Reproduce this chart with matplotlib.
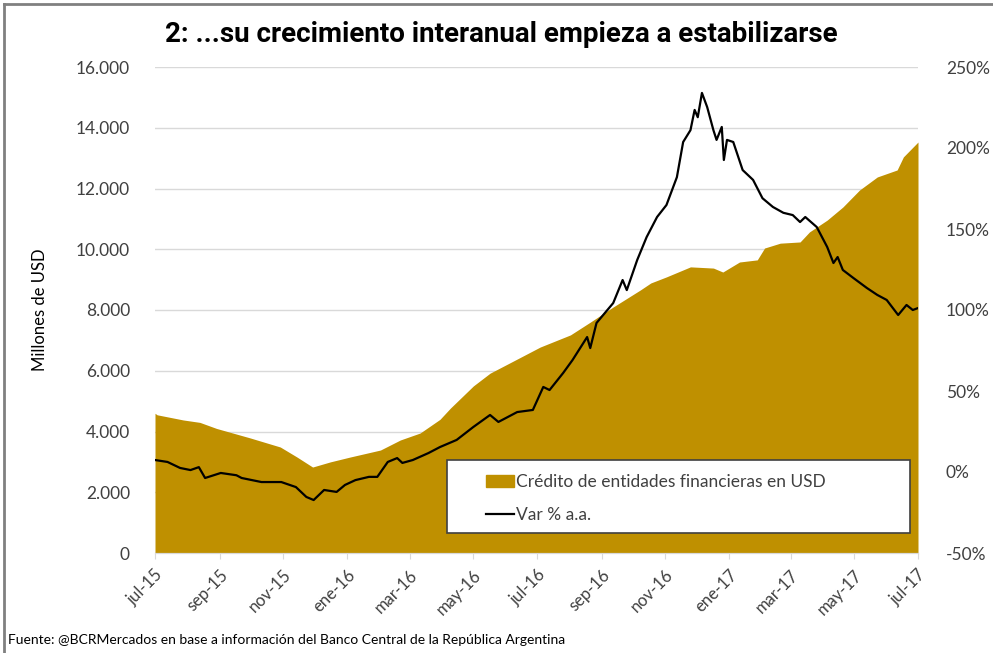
import matplotlib
matplotlib.use("Agg")
import matplotlib.pyplot as plt
from matplotlib.lines import Line2D
from matplotlib.patches import Rectangle, Patch
from matplotlib.ticker import FuncFormatter, MultipleLocator
from matplotlib import font_manager
import pandas as pd

# ---------------- data ----------------
credit_dates = ["2015-07-01", "2015-07-03", "2015-07-28", "2015-08-13", "2015-08-29",
                "2015-09-30", "2015-10-29", "2015-11-14", "2015-11-29", "2015-12-16",
                "2016-01-04", "2016-02-02", "2016-02-21", "2016-03-11", "2016-03-30",
                "2016-04-09", "2016-05-01", "2016-05-17", "2016-06-05", "2016-07-04",
                "2016-08-02", "2016-08-21", "2016-09-12", "2016-10-08", "2016-10-18",
                "2016-11-02", "2016-11-25", "2016-12-17", "2016-12-26", "2017-01-11",
                "2017-01-28", "2017-02-04", "2017-02-19", "2017-03-10", "2017-03-19",
                "2017-04-05", "2017-04-20", "2017-05-06", "2017-05-23", "2017-06-11",
                "2017-06-17", "2017-07-01"]
credit_values = [4600, 4550, 4380, 4300, 4100,
                 3790, 3490, 3160, 2830, 3000,
                 3160, 3390, 3720, 3950, 4400,
                 4770, 5500, 5920, 6260, 6780,
                 7180, 7600, 8100, 8660, 8890,
                 9090, 9420, 9380, 9250, 9580,
                 9650, 10040, 10200, 10240, 10570,
                 10960, 11390, 11950, 12380, 12610,
                 13040, 13530]

var_dates = ["2015-07-01", "2015-07-13", "2015-07-25", "2015-08-04", "2015-08-12",
             "2015-08-18", "2015-09-02", "2015-09-17", "2015-09-22", "2015-10-11",
             "2015-10-30", "2015-11-13", "2015-11-23", "2015-11-30", "2015-12-10",
             "2015-12-22", "2015-12-30", "2016-01-09", "2016-01-22", "2016-01-30",
             "2016-02-09", "2016-02-18", "2016-02-23", "2016-03-04", "2016-03-19",
             "2016-03-30", "2016-04-15", "2016-05-01", "2016-05-17", "2016-05-25",
             "2016-06-12", "2016-06-27", "2016-07-07", "2016-07-13", "2016-07-26",
             "2016-08-04", "2016-08-18", "2016-08-21", "2016-08-27", "2016-09-12",
             "2016-09-21", "2016-09-25", "2016-10-05", "2016-10-14", "2016-10-24",
             "2016-11-02", "2016-11-12", "2016-11-18", "2016-11-25", "2016-11-29",
             "2016-12-02", "2016-12-06", "2016-12-11", "2016-12-17", "2016-12-20",
             "2016-12-25", "2016-12-27", "2016-12-30", "2017-01-05", "2017-01-14",
             "2017-01-24", "2017-02-02", "2017-02-12", "2017-02-22", "2017-03-03",
             "2017-03-10", "2017-03-15", "2017-03-26", "2017-04-05", "2017-04-11",
             "2017-04-15", "2017-04-20", "2017-04-30", "2017-05-13", "2017-05-23",
             "2017-06-01", "2017-06-12", "2017-06-20", "2017-06-26", "2017-07-01"]
var_values = [7.4, 6.2, 2.5, 1.2, 3.0,
              -3.7, -0.6, -2.0, -3.7, -6.2,
              -6.2, -9.3, -15.4, -17.3, -11.1,
              -12.3, -8.0, -5.0, -3.0, -3.0,
              6.2, 8.6, 5.6, 7.4, 11.7,
              15.4, 19.8, 27.8, 35.2, 30.9,
              37.0, 38.3, 52.5, 50.6, 61.1,
              69.1, 83.3, 76.5, 92.0, 104.3,
              118.5, 112.3, 130.9, 145.0, 157.4,
              164.8, 182.0, 203.7, 211.0, 223.5,
              219.0, 234.0, 225.3, 211.0, 205.0,
              213.0, 192.6, 205.0, 203.7, 186.4,
              180.3, 169.0, 163.6, 160.0, 158.6,
              154.3, 157.4, 151.2, 138.9, 129.0,
              132.7, 124.7, 119.8, 113.6, 109.3,
              106.2, 96.9, 103.1, 100.0, 101.2]

tick_dates = ["2015-07-01", "2015-09-01", "2015-11-01", "2016-01-01", "2016-03-01",
              "2016-05-01", "2016-07-01", "2016-09-01", "2016-11-01", "2017-01-01",
              "2017-03-01", "2017-05-01", "2017-07-01"]
tick_labels = ["jul-15", "sep-15", "nov-15", "ene-16", "mar-16", "may-16", "jul-16",
               "sep-16", "nov-16", "ene-17", "mar-17", "may-17", "jul-17"]

title = "2: ...su crecimiento interanual empieza a estabilizarse"
credit_label = "Crédito de entidades financieras en USD"
var_label = "Var % a.a."
ylabel = "Millones de USD"
source = "Fuente: @BCRMercados en base a información del Banco Central de la República Argentina"

# ---------------- style ----------------
GOLD = "#BF9000"
TXT = "#404040"
GRID = "#d9d9d9"
FONT = "Lato"

names = {f.name for f in font_manager.fontManager.ttflist}
if "Liberation Sans Narrow" in names:
    TITLE_FONT, TITLE_SIZE = "Liberation Sans Narrow", 24
else:
    TITLE_FONT, TITLE_SIZE = "Roboto", 20

cd = pd.to_datetime(credit_dates)
vd = pd.to_datetime(var_dates)
td = pd.to_datetime(tick_dates)

fig = plt.figure(figsize=(9.93, 6.53), dpi=100)
ax = fig.add_axes([155 / 993, 1 - 553 / 653, (918 - 155) / 993, (553 - 67) / 653])
ax2 = ax.twinx()

ax.fill_between(cd, 0, credit_values, color=GOLD, lw=0, zorder=2)
ax2.plot(vd, var_values, color="black", lw=1.6, zorder=3)

ax.set_xlim(td[0], td[-1])
ax.set_ylim(0, 16000)
ax2.set_ylim(-50, 250)
ax.yaxis.set_major_locator(MultipleLocator(2000))
ax2.yaxis.set_major_locator(MultipleLocator(50))
ax.yaxis.set_major_formatter(FuncFormatter(lambda v, p: f"{int(v):,}".replace(",", ".")))
ax2.yaxis.set_major_formatter(FuncFormatter(lambda v, p: f"{int(v)}%"))

ax.grid(axis="y", color=GRID, lw=1, zorder=0)
ax.set_axisbelow(True)

ax.set_xticks(td)
ax.set_xticklabels(tick_labels, rotation=45, ha="right", rotation_mode="anchor",
                   fontsize=12, color=TXT, family=FONT)
for lab in ax.get_yticklabels():
    lab.set_fontsize(12.5); lab.set_color(TXT); lab.set_family(FONT)
for lab in ax2.get_yticklabels():
    lab.set_fontsize(12.5); lab.set_color(TXT); lab.set_family(FONT)

ax.tick_params(axis="x", length=4, color=GRID, pad=6)
ax.tick_params(axis="y", length=0, pad=18)
ax2.tick_params(axis="y", length=0, pad=20)

for a in (ax, ax2):
    for s in ("top", "left", "right"):
        a.spines[s].set_visible(False)
    a.spines["bottom"].set_color(GRID)

ax.set_ylabel(ylabel, fontsize=12, color="black", family=FONT, labelpad=20)

# legend box
box = Rectangle(((447 - 155) / 763, (553 - 533) / 486), (910 - 447) / 763, (533 - 460) / 486,
                transform=ax.transAxes, facecolor="white", edgecolor="#404040", lw=1.2, zorder=5)
ax2.add_patch(box)
handles = [Patch(facecolor=GOLD, edgecolor=GOLD),
           Line2D([0], [0], color="black", lw=1.6)]
leg = ax2.legend(handles, [credit_label, var_label],
                 loc="upper left", bbox_to_anchor=((472 - 155) / 763, (553 - 460) / 486),
                 frameon=False, handlelength=1.6, handleheight=0.7,
                 handletextpad=0.15, labelspacing=1.0, borderpad=0.3,
                 prop={"family": FONT, "size": 12.5})
leg.set_zorder(6)
for t in leg.get_texts():
    t.set_color(TXT)

fig.text(0.505, 1 - 35 / 653, title, ha="center", va="center", fontsize=TITLE_SIZE,
         fontweight="bold", family=TITLE_FONT, color="black")
fig.text(8 / 993, 1 - 640 / 653, source, ha="left", va="center", fontsize=10,
         family=FONT, color="black")

# outer frame lines (top and left)
fig.add_artist(Line2D([4 / 993, 1], [1 - 4 / 653, 1 - 4 / 653], transform=fig.transFigure,
                      color="#808080", lw=2))
fig.add_artist(Line2D([4 / 993, 4 / 993], [0, 1 - 4 / 653], transform=fig.transFigure,
                      color="#808080", lw=2))

fig.savefig("out.png", dpi=100)
